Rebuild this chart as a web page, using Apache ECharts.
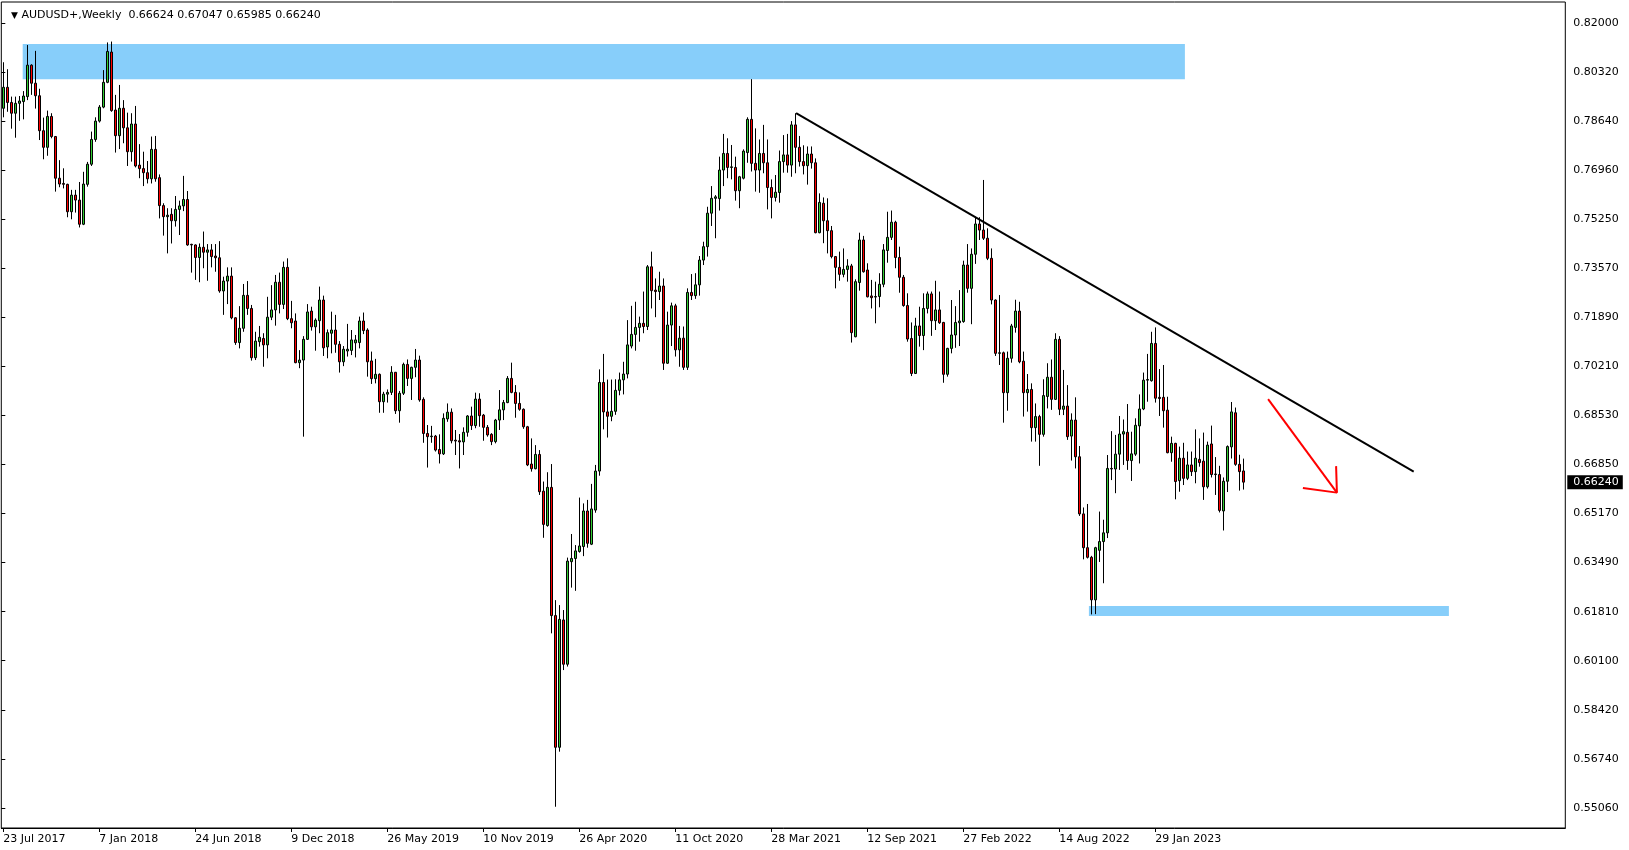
<!DOCTYPE html>
<html><head><meta charset="utf-8">
<script src="https://cdn.jsdelivr.net/npm/echarts@6/dist/echarts.min.js"></script>
<style>html,body{margin:0;padding:0;background:#fff}#c{width:1629px;height:850px}</style>
</head><body><div id="c"></div>
<script>
const symbolName = 'AUDUSD+';
const timeframe = 'Weekly';
const firstWeek = '2017-07-23';
const labelEvery = 24;
const futureSlots = 80;
const yTickLabels = ['0.55060','0.56740','0.58420','0.60100','0.61810','0.63490','0.65170','0.66850','0.68530','0.70210','0.71890','0.73570','0.75250','0.76960','0.78640','0.80320','0.82000'];
// weekly candles: [open, close, low, high]
const bars2017 = [
[0.7907,0.7979,0.7876,0.8065],[0.7979,0.7927,0.7895,0.8041],[0.7927,0.7890,0.7837,0.7947],[0.7890,0.7924,0.7806,0.7947],
[0.7924,0.7932,0.7864,0.7949],[0.7930,0.7949,0.7869,0.7966],[0.7947,0.8055,0.7935,0.8124],[0.8055,0.7993,0.7953,0.8058],
[0.7993,0.7950,0.7906,0.8104],[0.7950,0.7830,0.7798,0.7974],[0.7830,0.7773,0.7732,0.7875],[0.7773,0.7879,0.7744,0.7899],
[0.7879,0.7810,0.7804,0.7890],[0.7810,0.7667,0.7621,0.7812],[0.7667,0.7647,0.7636,0.7729],[0.7649,0.7646,0.7632,0.7701],
[0.7646,0.7552,0.7533,0.7648],[0.7552,0.7609,0.7526,0.7627],[0.7609,0.7592,0.7549,0.7627],[0.7592,0.7509,0.7498,0.7654],
[0.7509,0.7647,0.7506,0.7689],[0.7646,0.7715,0.7638,0.7723],[0.7715,0.7800,0.7709,0.7827],[0.7800,0.7863,0.7792,0.7876]];
const bars2018 = [
[0.7863,0.7911,0.7858,0.7918],[0.7911,0.7996,0.7907,0.8038],[0.7996,0.8102,0.7993,0.8133],[0.8100,0.7899,0.7895,0.8136],
[0.7901,0.7813,0.7755,0.7953],[0.7813,0.7907,0.7767,0.7987],[0.7907,0.7840,0.7787,0.7935],[0.7840,0.7758,0.7709,0.7892],
[0.7758,0.7853,0.7724,0.7890],[0.7853,0.7709,0.7704,0.7915],[0.7712,0.7700,0.7667,0.7784],[0.7700,0.7686,0.7640,0.7758],
[0.7686,0.7665,0.7649,0.7726],[0.7665,0.7766,0.7649,0.7810],[0.7766,0.7665,0.7655,0.7812],[0.7669,0.7573,0.7529,0.7680],
[0.7573,0.7535,0.7470,0.7581],[0.7535,0.7540,0.7409,0.7564],[0.7543,0.7521,0.7443,0.7564],[0.7521,0.7560,0.7501,0.7606],
[0.7560,0.7572,0.7472,0.7590],[0.7572,0.7594,0.7554,0.7675],[0.7594,0.7438,0.7435,0.7623],[0.7440,0.7438,0.7343,0.7442],
[0.7438,0.7395,0.7318,0.7440],[0.7395,0.7430,0.7310,0.7443],[0.7430,0.7413,0.7358,0.7484],[0.7413,0.7421,0.7315,0.7441],
[0.7421,0.7398,0.7361,0.7441],[0.7400,0.7394,0.7346,0.7441],[0.7394,0.7280,0.7274,0.7451],[0.7280,0.7314,0.7198,0.7329],
[0.7314,0.7331,0.7235,0.7361],[0.7331,0.7188,0.7183,0.7361],[0.7188,0.7103,0.7095,0.7190],[0.7103,0.7152,0.7083,0.7228],
[0.7152,0.7265,0.7140,0.7304],[0.7265,0.7220,0.7198,0.7314],[0.7220,0.7051,0.7041,0.7232],[0.7051,0.7108,0.7043,0.7140],
[0.7106,0.7121,0.7089,0.7160],[0.7117,0.7095,0.7020,0.7135],[0.7095,0.7190,0.7049,0.7260],[0.7190,0.7215,0.7180,0.7300],
[0.7215,0.7310,0.7161,0.7335],[0.7310,0.7234,0.7203,0.7343],[0.7234,0.7361,0.7218,0.7381],[0.7361,0.7185,0.7180,0.7392],
[0.7185,0.7171,0.7152,0.7246],[0.7177,0.7034,0.7032,0.7203],[0.7034,0.7043,0.7015,0.7077],[0.7043,0.7114,0.6780,0.7125]];
const bars2019 = [
[0.7114,0.7208,0.7112,0.7235],[0.7211,0.7157,0.7144,0.7226],[0.7157,0.7180,0.7075,0.7186],[0.7178,0.7249,0.7135,0.7295],
[0.7249,0.7085,0.7057,0.7264],[0.7088,0.7137,0.7049,0.7148],[0.7135,0.7146,0.7066,0.7209],[0.7146,0.7097,0.7068,0.7198],
[0.7097,0.7037,0.7000,0.7108],[0.7037,0.7080,0.7022,0.7091],[0.7074,0.7080,0.7055,0.7167],[0.7076,0.7112,0.7060,0.7146],
[0.7102,0.7112,0.7052,0.7129],[0.7103,0.7177,0.7083,0.7192],[0.7177,0.7144,0.7132,0.7206],[0.7146,0.7037,0.6986,0.7152],
[0.7040,0.6979,0.6961,0.7072],[0.6979,0.6994,0.6963,0.7047],[0.6994,0.6900,0.6862,0.6997],[0.6900,0.6926,0.6862,0.6934],
[0.6926,0.6932,0.6897,0.6942],[0.6932,0.7001,0.6923,0.7022],[0.7001,0.6869,0.6858,0.7002],[0.6869,0.6929,0.6828,0.6937],
[0.6929,0.7028,0.6923,0.7034],[0.7028,0.6980,0.6954,0.7045],[0.6980,0.7018,0.6906,0.7020],[0.7018,0.7043,0.6984,0.7081],
[0.7043,0.6906,0.6900,0.7058],[0.6908,0.6791,0.6759,0.6915],[0.6791,0.6780,0.6674,0.6820],[0.6780,0.6782,0.6759,0.6817],
[0.6782,0.6734,0.6729,0.6786],[0.6736,0.6721,0.6688,0.6788],[0.6721,0.6843,0.6717,0.6860],[0.6841,0.6864,0.6831,0.6894],
[0.6864,0.6766,0.6757,0.6877],[0.6768,0.6765,0.6717,0.6803],[0.6766,0.6762,0.6671,0.6789],[0.6762,0.6795,0.6717,0.6812],
[0.6795,0.6851,0.6780,0.6854],[0.6851,0.6818,0.6803,0.6883],[0.6818,0.6909,0.6809,0.6931],[0.6909,0.6852,0.6814,0.6929],
[0.6854,0.6812,0.6766,0.6858],[0.6812,0.6786,0.6780,0.6820],[0.6788,0.6763,0.6751,0.6792],[0.6763,0.6837,0.6757,0.6841],
[0.6837,0.6872,0.6803,0.6940],[0.6872,0.6897,0.6837,0.6906],[0.6897,0.6980,0.6895,0.6988],[0.6980,0.6932,0.6929,0.7034]];
const bars2020 = [
[0.6932,0.6894,0.6845,0.6957],[0.6894,0.6874,0.6869,0.6932],[0.6874,0.6814,0.6807,0.6877],[0.6814,0.6683,0.6679,0.6817],
[0.6686,0.6670,0.6660,0.6774],[0.6670,0.6719,0.6668,0.6751],[0.6719,0.6591,0.6580,0.6734],[0.6593,0.6479,0.6433,0.6626],
[0.6475,0.6606,0.6471,0.6658],[0.6606,0.6166,0.6105,0.6686],[0.6166,0.5714,0.5510,0.6219],[0.5714,0.6153,0.5699,0.6202],
[0.6151,0.5999,0.5979,0.6185],[0.5999,0.6353,0.5991,0.6365],[0.6351,0.6362,0.6262,0.6446],[0.6362,0.6388,0.6251,0.6408],
[0.6386,0.6405,0.6382,0.6571],[0.6403,0.6525,0.6370,0.6551],[0.6525,0.6414,0.6399,0.6563],[0.6411,0.6532,0.6408,0.6618],
[0.6528,0.6662,0.6519,0.6683],[0.6662,0.6966,0.6646,0.7011],[0.6966,0.6865,0.6805,0.7064],[0.6865,0.6850,0.6777,0.6976],
[0.6850,0.6867,0.6833,0.6976],[0.6867,0.6939,0.6855,0.6977],[0.6939,0.6975,0.6922,0.7000],[0.6975,0.6995,0.6925,0.7037],
[0.6995,0.7095,0.6980,0.7180],[0.7091,0.7131,0.7083,0.7229],[0.7131,0.7155,0.7075,0.7243],[0.7155,0.7169,0.7106,0.7192],
[0.7169,0.7158,0.7135,0.7278],[0.7158,0.7363,0.7146,0.7369],[0.7363,0.7281,0.7220,0.7415],[0.7283,0.7278,0.7190,0.7323],
[0.7278,0.7297,0.7249,0.7346],[0.7297,0.7032,0.7009,0.7323],[0.7032,0.7163,0.7030,0.7209],[0.7163,0.7229,0.7091,0.7240],
[0.7229,0.7078,0.7055,0.7236],[0.7078,0.7118,0.7020,0.7160],[0.7118,0.7018,0.7009,0.7158],[0.7018,0.7275,0.7009,0.7289],
[0.7275,0.7264,0.7249,0.7338],[0.7264,0.7301,0.7253,0.7341],[0.7301,0.7386,0.7264,0.7400],[0.7386,0.7432,0.7369,0.7449],
[0.7432,0.7547,0.7398,0.7569],[0.7547,0.7598,0.7503,0.7640],[0.7598,0.7603,0.7461,0.7609],[0.7597,0.7695,0.7556,0.7741]];
const bars2021 = [
[0.7695,0.7752,0.7640,0.7819],[0.7752,0.7704,0.7667,0.7804],[0.7704,0.7706,0.7663,0.7781],[0.7704,0.7624,0.7590,0.7741],
[0.7624,0.7672,0.7564,0.7675],[0.7667,0.7760,0.7663,0.7766],[0.7755,0.7869,0.7720,0.7876],[0.7869,0.7718,0.7690,0.8007],
[0.7718,0.7695,0.7621,0.7838],[0.7695,0.7752,0.7617,0.7800],[0.7752,0.7720,0.7684,0.7850],[0.7720,0.7635,0.7560,0.7800],
[0.7635,0.7601,0.7529,0.7663],[0.7601,0.7619,0.7587,0.7678],[0.7618,0.7724,0.7583,0.7762],[0.7724,0.7747,0.7686,0.7815],
[0.7747,0.7712,0.7686,0.7819],[0.7712,0.7850,0.7672,0.7863],[0.7850,0.7773,0.7684,0.7890],[0.7773,0.7724,0.7707,0.7812],
[0.7724,0.7710,0.7680,0.7780],[0.7710,0.7750,0.7645,0.7776],[0.7750,0.7720,0.7700,0.7776],[0.7720,0.7480,0.7478,0.7735],
[0.7480,0.7584,0.7478,0.7615],[0.7581,0.7521,0.7444,0.7601],[0.7521,0.7487,0.7409,0.7598],[0.7487,0.7398,0.7392,0.7503],
[0.7398,0.7361,0.7289,0.7400],[0.7361,0.7337,0.7315,0.7415],[0.7337,0.7354,0.7327,0.7426],[0.7354,0.7366,0.7312,0.7389],
[0.7366,0.7137,0.7103,0.7373],[0.7123,0.7312,0.7121,0.7320],[0.7309,0.7455,0.7281,0.7480],[0.7455,0.7346,0.7343,0.7469],
[0.7352,0.7260,0.7258,0.7375],[0.7263,0.7257,0.7220,0.7318],[0.7259,0.7261,0.7169,0.7312],[0.7261,0.7303,0.7224,0.7341],
[0.7303,0.7421,0.7293,0.7441],[0.7419,0.7464,0.7377,0.7552],[0.7464,0.7516,0.7455,0.7556],[0.7516,0.7395,0.7358,0.7521],
[0.7395,0.7327,0.7274,0.7432],[0.7327,0.7230,0.7226,0.7335],[0.7230,0.7115,0.7106,0.7272],[0.7117,0.6997,0.6988,0.7172],
[0.6997,0.7160,0.6995,0.7188],[0.7160,0.7127,0.7089,0.7226],[0.7127,0.7220,0.7077,0.7272],[0.7220,0.7270,0.7203,0.7278]];
const bars2022 = [
[0.7270,0.7178,0.7126,0.7278],[0.7178,0.7215,0.7146,0.7315],[0.7215,0.7171,0.7167,0.7278],[0.7172,0.6994,0.6965,0.7174],
[0.6994,0.7083,0.6986,0.7085],[0.7083,0.7129,0.7066,0.7249],[0.7129,0.7172,0.7085,0.7228],[0.7171,0.7177,0.7091,0.7283],
[0.7175,0.7369,0.7171,0.7384],[0.7369,0.7289,0.7274,0.7441],[0.7289,0.7406,0.7166,0.7426],[0.7406,0.7510,0.7373,0.7535],
[0.7510,0.7489,0.7455,0.7533],[0.7489,0.7461,0.7455,0.7661],[0.7461,0.7392,0.7386,0.7495],[0.7392,0.7249,0.7234,0.7426],
[0.7249,0.7066,0.7057,0.7251],[0.7066,0.7068,0.7026,0.7266],[0.7068,0.6931,0.6828,0.7072],[0.6931,0.7049,0.6869,0.7072],
[0.7049,0.7160,0.7034,0.7167],[0.7155,0.7211,0.7137,0.7250],[0.7211,0.7037,0.7032,0.7243],[0.7039,0.6931,0.6849,0.7072],
[0.6931,0.6942,0.6866,0.6995],[0.6942,0.6811,0.6763,0.6963],[0.6811,0.6849,0.6763,0.6894],[0.6849,0.6788,0.6680,0.6855],
[0.6788,0.6921,0.6780,0.6977],[0.6918,0.6984,0.6877,0.7032],[0.6984,0.6908,0.6872,0.7045],[0.6908,0.7114,0.6906,0.7135],
[0.7114,0.6874,0.6854,0.7125],[0.6874,0.6885,0.6854,0.7009],[0.6885,0.6780,0.6769,0.6957],[0.6782,0.6837,0.6698,0.6860],
[0.6837,0.6711,0.6671,0.6915],[0.6711,0.6515,0.6508,0.6748],[0.6515,0.6399,0.6359,0.6537],[0.6399,0.6366,0.6362,0.6549],
[0.6366,0.6220,0.6170,0.6371],[0.6220,0.6399,0.6171,0.6402],[0.6390,0.6420,0.6350,0.6523],[0.6420,0.6450,0.6277,0.6495],
[0.6450,0.6671,0.6432,0.6717],[0.6671,0.6669,0.6631,0.6799],[0.6669,0.6720,0.6586,0.6786],[0.6720,0.6789,0.6666,0.6851],
[0.6789,0.6797,0.6683,0.6839],[0.6795,0.6698,0.6666,0.6892],[0.6698,0.6721,0.6628,0.6797],[0.6720,0.6819,0.6714,0.6843]];
const bars2023 = [
[0.6817,0.6875,0.6688,0.6925],[0.6875,0.6974,0.6871,0.7000],[0.6974,0.6976,0.6900,0.7064],[0.6972,0.7100,0.6969,0.7140],
[0.7100,0.6912,0.6897,0.7155],[0.6915,0.6911,0.6851,0.7012],[0.6915,0.6869,0.6811,0.7026],[0.6871,0.6725,0.6723,0.6917],
[0.6725,0.6757,0.6694,0.6780],[0.6757,0.6626,0.6565,0.6759],[0.6629,0.6706,0.6591,0.6746],[0.6706,0.6637,0.6614,0.6759],
[0.6637,0.6683,0.6631,0.6729],[0.6683,0.6660,0.6645,0.6729],[0.6660,0.6706,0.6620,0.6805],[0.6702,0.6691,0.6677,0.6774],
[0.6696,0.6608,0.6563,0.6794],[0.6608,0.6751,0.6602,0.6763],[0.6755,0.6650,0.6640,0.6818],[0.6650,0.6652,0.6580,0.6710],
[0.6650,0.6527,0.6520,0.6680],[0.6525,0.6627,0.6458,0.6640],[0.6627,0.6746,0.6590,0.6750],[0.6745,0.6865,0.6705,0.6899],
[0.6862,0.6685,0.6680,0.6880],[0.6685,0.6660,0.6595,0.6718],[0.66624,0.66240,0.65985,0.67047]];
// drawn objects, in bar-index / price units
const supplyZone = [4.85, 295.4, 0.8007, 0.8128];
const demandZone = [271.4, 361.4, 0.6165, 0.6199];
const trendLine = [[198.2, 0.7890], [352.6, 0.6660]];
const arrowShaft = [[316.2, 0.6909], [333.4, 0.6588]];
const arrowHead = [[324.9, 0.6604], [333.4, 0.6588], [333.2, 0.6679]];

const candles = [].concat(bars2017, bars2018, bars2019, bars2020, bars2021, bars2022, bars2023);
const N = candles.length + futureSlots;
const MON = ['Jan','Feb','Mar','Apr','May','Jun','Jul','Aug','Sep','Oct','Nov','Dec'];
const t0 = Date.parse(firstWeek + 'T00:00:00Z');
const categories = [];
for (let i = 0; i < N; i++) {
  const d = new Date(t0 + i * 7 * 86400000);
  categories.push(d.getUTCDate() + ' ' + MON[d.getUTCMonth()] + ' ' + d.getUTCFullYear());
}
const last = candles[candles.length - 1];
const yLo = 0.5506, yHi = 0.82, yStep = (yHi - yLo) / (yTickLabels.length - 1);

const FONT = 'DejaVu Sans';
const gL = 1.3, gT = 2, gB = 828, slot = 4;
const gW = N * slot;
const pxPerUnit = 785 / (yHi - yLo);
const labTop = 22.9, labBot = labTop + (yHi - yLo) * pxPerUnit;
const mainMax = yHi + (labTop - gT) / pxPerUnit;
const mainMin = yHi - (gB - labTop) / pxPerUnit;

const showLabel = (idx) => idx % labelEvery === 0 && idx < candles.length;

const chart = echarts.init(document.getElementById('c'), null, {renderer: 'canvas'});
chart.setOption({
  animation: false,
  backgroundColor: '#fff',
  title: {
    text: '{t|▼} ' + symbolName + ',' + timeframe + '  ' + last[0].toFixed(5) + ' ' + last[3].toFixed(5) + ' ' + last[2].toFixed(5) + ' ' + last[1].toFixed(5),
    left: 6, top: 5,
    textStyle: {fontFamily: FONT, fontSize: 11, fontWeight: 'normal', color: '#000',
      rich: {t: {fontSize: 9, color: '#000', fontFamily: FONT}}}
  },
  grid: [
    {left: gL, top: gT, width: gW, height: gB - gT, show: true, borderColor: '#000', borderWidth: 1, backgroundColor: 'transparent', containLabel: false},
    {left: gL, top: labTop, width: gW, height: labBot - labTop, show: false, containLabel: false}
  ],
  xAxis: [
    {type: 'category', gridIndex: 0, data: categories, boundaryGap: true,
     axisLine: {show: true, lineStyle: {color: '#000', width: 1}},
     axisTick: {show: true, interval: (i) => showLabel(i), alignWithLabel: true, length: 4, lineStyle: {color: '#000'}},
     axisLabel: {show: true, interval: (i) => showLabel(i), align: 'left', color: '#000', fontFamily: FONT, fontSize: 11, margin: 6},
     splitLine: {show: false}},
    {type: 'value', gridIndex: 0, min: -0.5, max: N - 0.5, show: false},
    {type: 'value', gridIndex: 1, min: 0, max: 1, show: false}
  ],
  yAxis: [
    {type: 'value', gridIndex: 0, position: 'right', min: mainMin, max: mainMax, scale: true,
     axisLine: {show: false}, axisTick: {show: false}, axisLabel: {show: false}, splitLine: {show: false}},
    {type: 'value', gridIndex: 1, position: 'right', min: yLo, max: yHi, interval: yStep,
     axisLine: {show: false}, splitLine: {show: false},
     axisTick: {show: true, length: 4, lineStyle: {color: '#000'}},
     axisLabel: {show: true, color: '#000', fontFamily: FONT, fontSize: 11, margin: 8,
       formatter: (v) => yTickLabels[Math.round((v - yLo) / yStep)]},
     axisPointer: {show: true, type: 'line', value: last[1], status: 'show', triggerTooltip: false,
       lineStyle: {opacity: 0, width: 0},
       label: {show: true, backgroundColor: '#000', color: '#fff', fontFamily: FONT, fontSize: 11,
         padding: [2, 4, 1, 6], margin: 2, borderRadius: 0,
         formatter: (p) => Number(p.value).toFixed(5)}}}
  ],
  series: [
    {type: 'custom', name: 'zones', xAxisIndex: 1, yAxisIndex: 0, z: 1, silent: true,
     data: [supplyZone, demandZone],
     renderItem: (params, api) => {
       const a = api.coord([api.value(0), api.value(3)]);
       const b = api.coord([api.value(1), api.value(2)]);
       return {type: 'rect', shape: {x: a[0], y: a[1], width: b[0] - a[0], height: b[1] - a[1]},
               style: {fill: '#87CEFA'}};
     }},
    {type: 'candlestick', name: 'AUDUSD', xAxisIndex: 0, yAxisIndex: 0, z: 2, data: candles,
     barWidth: 2, clip: false,
     itemStyle: {color: '#32CD32', color0: '#FF0000', borderColor: '#000', borderColor0: '#000', borderColorDoji: '#000', borderWidth: 1}},
    {type: 'line', name: 'trend', xAxisIndex: 1, yAxisIndex: 0, z: 3, data: trendLine, symbol: 'none',
     lineStyle: {color: '#000', width: 2}, silent: true},
    {type: 'line', name: 'arrowShaft', xAxisIndex: 1, yAxisIndex: 0, z: 3, data: arrowShaft, symbol: 'none',
     lineStyle: {color: '#FF0000', width: 2}, silent: true},
    {type: 'line', name: 'arrowHead', xAxisIndex: 1, yAxisIndex: 0, z: 3, data: arrowHead, symbol: 'none',
     lineStyle: {color: '#FF0000', width: 2}, silent: true}
  ]
});
</script></body></html>
